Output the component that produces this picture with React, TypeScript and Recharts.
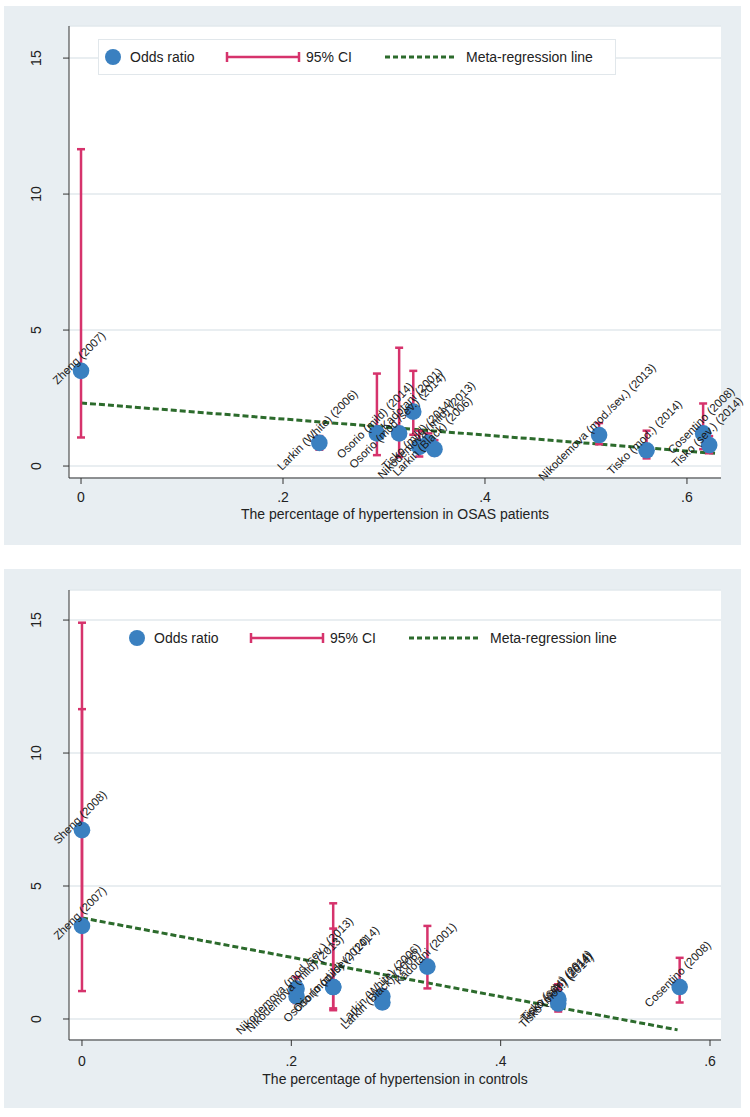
import React from 'react'
import { CartesianGrid, ComposedChart, ErrorBar, Line, Scatter, XAxis, YAxis } from 'recharts'

const FONT = '"Liberation Sans", Arial, Helvetica, sans-serif'
const BLUE = '#3a80c0'
const PINK = '#d6336c'
const GREEN = '#2c6b2c'
const PANEL_BG = '#e8eef2'
const GRID = '#e2e9ed'
const AXIS = '#333'

// top panel: share of hypertension among OSAS patients
const osasLabels = [
  'Zheng (2007)',
  'Larkin (White) (2006)',
  'Osorio (mild) (2014)',
  'Osorio (mod./sev.) (2014)',
  'Kadotani (2001)',
  'Tisko (mild) (2014)',
  'Nikodemova (mild) (2013)',
  'Larkin (Black) (2006)',
  'Nikodemova (mod./sev.) (2013)',
  'Tisko (mod.) (2014)',
  'Cosentino (2008)',
  'Tisko (sev.) (2014)',
]
const osasX = [0, 0.236, 0.293, 0.315, 0.329, 0.335, 0.344, 0.35, 0.513, 0.56, 0.616, 0.622]
const osasOR = [3.5, 0.85, 1.2, 1.2, 2.0, 0.7, 0.85, 0.62, 1.14, 0.58, 1.2, 0.77]
const osasLow = [1.05, 0.6, 0.4, 0.33, 1.15, 0.35, 0.6, 0.4, 0.8, 0.28, 0.62, 0.47]
const osasHigh = [11.65, 1.1, 3.4, 4.35, 3.5, 1.3, 1.2, 0.95, 1.58, 1.3, 2.3, 1.1]
const osasFitX = [0, 0.63]
const osasFitY = [2.32, 0.46]

// bottom panel: share of hypertension among controls
const ctrlLabels = [
  'Zheng (2007)',
  'Sheng (2008)',
  'Nikodemova (mod./sev.) (2013)',
  'Nikodemova (mild) (2013)',
  'Osorio (mild) (2014)',
  'Osorio (mod./sev.) (2014)',
  'Larkin (White) (2006)',
  'Larkin (Black) (2006)',
  'Kadotani (2001)',
  'Tisko (mild) (2014)',
  'Tisko (mod.) (2014)',
  'Tisko (sev.) (2014)',
  'Cosentino (2008)',
]
const ctrlX = [0, 0, 0.205, 0.205, 0.24, 0.24, 0.287, 0.287, 0.33, 0.455, 0.455, 0.455, 0.571]
const ctrlOR = [3.5, 7.1, 1.14, 0.85, 1.2, 1.2, 0.85, 0.62, 1.97, 0.7, 0.58, 0.77, 1.2]
const ctrlLow = [1.05, 3.4, 0.8, 0.6, 0.4, 0.33, 0.6, 0.4, 1.15, 0.35, 0.28, 0.47, 0.62]
const ctrlHigh = [11.65, 14.9, 1.58, 1.2, 3.4, 4.35, 1.1, 0.95, 3.5, 1.3, 1.3, 1.1, 2.3]
const ctrlFitX = [0, 0.569]
const ctrlFitY = [3.8, -0.41]

const yTicks = [0, 5, 10, 15]
const xTicks = [0, 0.2, 0.4, 0.6]

type Row = { x: number; y: number; err: [number, number]; label: string }

function buildRows(labels: string[], xs: number[], ors: number[], lo: number[], hi: number[]): Row[] {
  return labels.map((label, i) => ({
    x: xs[i],
    y: ors[i],
    err: [ors[i] - lo[i], hi[i] - ors[i]],
    label,
  }))
}

const fmtX = (v: number) => (v === 0 ? '0' : String(v).replace(/^0/, ''))

const YTick = (props: any) => {
  const { x, y, payload } = props
  return (
    <text
      x={x}
      y={y}
      transform={`rotate(-90 ${x} ${y})`}
      textAnchor="middle"
      fontSize={14}
      fill="#222"
      fontFamily={FONT}
    >
      {payload.value}
    </text>
  )
}

const Dot = (p: any) => <circle cx={p.cx} cy={p.cy} r={8.3} fill={BLUE} />

const StudyLabel = (p: any) => {
  const tx = p.cx - 2
  const ty = p.cy - 13
  return (
    <text
      x={tx}
      y={ty}
      transform={`rotate(-45 ${tx} ${ty})`}
      textAnchor="middle"
      dominantBaseline="central"
      fontSize={11.5}
      fill="#1a1a1a"
      fontFamily={FONT}
    >
      {p.payload.label}
    </text>
  )
}

function Legend({ left, top, boxed }: { left: number; top: number; boxed: boolean }) {
  const t = { fontSize: 14, fill: '#222', fontFamily: FONT }
  return (
    <svg style={{ position: 'absolute', left, top }} width={518} height={36}>
      {boxed && <rect x={0.5} y={0.5} width={517} height={35} fill="#fff" stroke="#e1e7eb" />}
      <circle cx={15} cy={18} r={8} fill={BLUE} />
      <text x={32} y={23} {...t}>Odds ratio</text>
      <line x1={129} x2={201} y1={18} y2={18} stroke={PINK} strokeWidth={2.5} />
      <line x1={129} x2={129} y1={13} y2={23} stroke={PINK} strokeWidth={2.5} />
      <line x1={201} x2={201} y1={13} y2={23} stroke={PINK} strokeWidth={2.5} />
      <text x={208} y={23} {...t}>95% CI</text>
      <line x1={287} x2={357} y1={18} y2={18} stroke={GREEN} strokeWidth={3} strokeDasharray="5 3" />
      <text x={368} y={23} {...t}>Meta-regression line</text>
    </svg>
  )
}

type PanelProps = {
  top: number
  height: number
  bg: { top: number; height: number }
  margin: { top: number; right: number; bottom: number; left: number }
  rows: Row[]
  fit: { x: number; y: number }[]
  xDomain: [number, number]
  yDomain: [number, number]
  title: string
  tickGap: number
  titleOffset: number
  legend: { left: number; top: number; boxed: boolean }
}

function Panel(props: PanelProps) {
  const { top, height, bg, margin, rows, fit, xDomain, yDomain, title, tickGap, titleOffset, legend } = props
  return (
    <div style={{ position: 'absolute', left: 0, top, width: 750, height }}>
      <div
        style={{
          position: 'absolute',
          left: 4,
          top: bg.top,
          width: 737,
          height: bg.height,
          background: PANEL_BG,
        }}
      />
      <div style={{ position: 'absolute', left: 0, top: 0 }}>
        <ComposedChart width={750} height={height} margin={margin}>
          <CartesianGrid vertical={false} stroke={GRID} strokeWidth={1.5} fill="#fff" fillOpacity={1} />
          <XAxis
            type="number"
            dataKey="x"
            domain={xDomain}
            ticks={xTicks}
            tickFormatter={fmtX}
            height={30}
            tickSize={6}
            tickMargin={tickGap}
            stroke={AXIS}
            tick={{ fontSize: 14, fill: '#222', fontFamily: FONT }}
            label={{
              value: title,
              position: 'bottom',
              offset: titleOffset,
              style: { fontSize: 14, fill: '#222', fontFamily: FONT },
            }}
          />
          <YAxis
            type="number"
            dataKey="y"
            domain={yDomain}
            ticks={yTicks}
            width={40}
            tickSize={6}
            tickMargin={22}
            stroke={AXIS}
            tick={<YTick />}
          />
          <Line
            data={fit}
            dataKey="y"
            stroke={GREEN}
            strokeWidth={3}
            strokeDasharray="6 3"
            dot={false}
            activeDot={false}
            isAnimationActive={false}
          />
          <Scatter data={rows} dataKey="y" shape={Dot} isAnimationActive={false}>
            <ErrorBar dataKey="err" direction="y" width={4} stroke={PINK} strokeWidth={2.5} isAnimationActive={false} />
          </Scatter>
          <Scatter data={rows} dataKey="y" shape={StudyLabel} isAnimationActive={false} />
        </ComposedChart>
      </div>
      <Legend {...legend} />
    </div>
  )
}

export default function App() {
  const osasRows = buildRows(osasLabels, osasX, osasOR, osasLow, osasHigh)
  const ctrlRows = buildRows(ctrlLabels, ctrlX, ctrlOR, ctrlLow, ctrlHigh)
  const osasFit = osasFitX.map((x, i) => ({ x, y: osasFitY[i] }))
  const ctrlFit = ctrlFitX.map((x, i) => ({ x, y: ctrlFitY[i] }))

  return (
    <div
      style={{
        position: 'absolute',
        left: 0,
        top: 0,
        width: 750,
        height: 1117,
        background: '#fff',
        fontFamily: FONT,
      }}
    >
      <Panel
        top={0}
        height={560}
        bg={{ top: 6, height: 539 }}
        margin={{ top: 26, right: 29, bottom: 52, left: 29 }}
        rows={osasRows}
        fit={osasFit}
        xDomain={[-0.0119, 0.6337]}
        yDomain={[-0.44, 16.18]}
        title="The percentage of hypertension in OSAS patients"
        tickGap={8}
        titleOffset={1}
        legend={{ left: 98, top: 39, boxed: true }}
      />
      <Panel
        top={560}
        height={557}
        bg={{ top: 9, height: 539 }}
        margin={{ top: 30, right: 29, bottom: 47, left: 29 }}
        rows={ctrlRows}
        fit={ctrlFit}
        xDomain={[-0.0124, 0.6105]}
        yDomain={[-0.79, 16.13]}
        title="The percentage of hypertension in controls"
        tickGap={10}
        titleOffset={4}
        legend={{ left: 122, top: 60, boxed: false }}
      />
    </div>
  )
}
